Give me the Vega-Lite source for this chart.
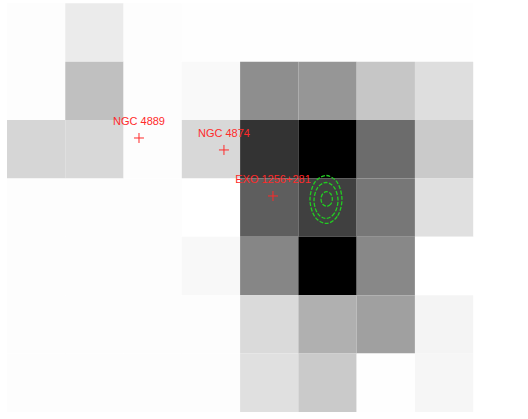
{
  "$schema": "https://vega.github.io/schema/vega-lite/v6.json",
  "width": 528,
  "height": 419,
  "padding": 0,
  "autosize": {"type": "fit", "contains": "padding"},
  "background": "#ffffff",
  "config": {"view": {"stroke": null}},
  "datasets": {
    "cells": [
      {"c":0,"c1":1,"r":0,"r1":1,"v":2},{"c":1,"c1":2,"r":0,"r1":1,"v":20},{"c":2,"c1":3,"r":0,"r1":1,"v":2},{"c":3,"c1":4,"r":0,"r1":1,"v":1},{"c":4,"c1":5,"r":0,"r1":1,"v":1},{"c":5,"c1":6,"r":0,"r1":1,"v":1},{"c":6,"c1":7,"r":0,"r1":1,"v":1},{"c":7,"c1":8,"r":0,"r1":1,"v":1},
      {"c":0,"c1":1,"r":1,"r1":2,"v":2},{"c":1,"c1":2,"r":1,"r1":2,"v":63},{"c":2,"c1":3,"r":1,"r1":2,"v":2},{"c":3,"c1":4,"r":1,"r1":2,"v":6},{"c":4,"c1":5,"r":1,"r1":2,"v":113},{"c":5,"c1":6,"r":1,"r1":2,"v":105},{"c":6,"c1":7,"r":1,"r1":2,"v":57},{"c":7,"c1":8,"r":1,"r1":2,"v":33},
      {"c":0,"c1":1,"r":2,"r1":3,"v":41},{"c":1,"c1":2,"r":2,"r1":3,"v":39},{"c":2,"c1":3,"r":2,"r1":3,"v":2},{"c":3,"c1":4,"r":2,"r1":3,"v":39},{"c":4,"c1":5,"r":2,"r1":3,"v":204},{"c":5,"c1":6,"r":2,"r1":3,"v":255},{"c":6,"c1":7,"r":2,"r1":3,"v":147},{"c":7,"c1":8,"r":2,"r1":3,"v":53},
      {"c":0,"c1":1,"r":3,"r1":4,"v":2},{"c":1,"c1":2,"r":3,"r1":4,"v":2},{"c":2,"c1":3,"r":3,"r1":4,"v":2},{"c":3,"c1":4,"r":3,"r1":4,"v":0},{"c":4,"c1":5,"r":3,"r1":4,"v":161},{"c":5,"c1":6,"r":3,"r1":4,"v":191},{"c":6,"c1":7,"r":3,"r1":4,"v":136},{"c":7,"c1":8,"r":3,"r1":4,"v":31},
      {"c":0,"c1":1,"r":4,"r1":5,"v":2},{"c":1,"c1":2,"r":4,"r1":5,"v":2},{"c":2,"c1":3,"r":4,"r1":5,"v":2},{"c":3,"c1":4,"r":4,"r1":5,"v":7},{"c":4,"c1":5,"r":4,"r1":5,"v":121},{"c":5,"c1":6,"r":4,"r1":5,"v":255},{"c":6,"c1":7,"r":4,"r1":5,"v":119},{"c":7,"c1":8,"r":4,"r1":5,"v":0},
      {"c":0,"c1":1,"r":5,"r1":6,"v":2},{"c":1,"c1":2,"r":5,"r1":6,"v":2},{"c":2,"c1":3,"r":5,"r1":6,"v":2},{"c":3,"c1":4,"r":5,"r1":6,"v":2},{"c":4,"c1":5,"r":5,"r1":6,"v":37},{"c":5,"c1":6,"r":5,"r1":6,"v":79},{"c":6,"c1":7,"r":5,"r1":6,"v":95},{"c":7,"c1":8,"r":5,"r1":6,"v":11},
      {"c":0,"c1":1,"r":6,"r1":7,"v":2},{"c":1,"c1":2,"r":6,"r1":7,"v":2},{"c":2,"c1":3,"r":6,"r1":7,"v":2},{"c":3,"c1":4,"r":6,"r1":7,"v":2},{"c":4,"c1":5,"r":6,"r1":7,"v":31},{"c":5,"c1":6,"r":6,"r1":7,"v":53},{"c":6,"c1":7,"r":6,"r1":7,"v":1},{"c":7,"c1":8,"r":6,"r1":7,"v":9}
    ],
    "sources": [
      {"name":"NGC 4889","x":2.265,"y":2.307},
      {"name":"NGC 4874","x":3.723,"y":2.512},
      {"name":"EXO 1256+281","x":4.564,"y":3.300}
    ],
    "contours": [
      {"level":1,"i":0,"x":5.748,"y":3.360},{"level":1,"i":1,"x":5.667,"y":3.651},{"level":1,"i":2,"x":5.474,"y":3.771},{"level":1,"i":3,"x":5.280,"y":3.651},{"level":1,"i":4,"x":5.199,"y":3.360},{"level":1,"i":5,"x":5.280,"y":3.069},{"level":1,"i":6,"x":5.474,"y":2.949},{"level":1,"i":7,"x":5.667,"y":3.069},
      {"level":2,"i":0,"x":5.680,"y":3.377},{"level":2,"i":1,"x":5.619,"y":3.595},{"level":2,"i":2,"x":5.474,"y":3.686},{"level":2,"i":3,"x":5.328,"y":3.595},{"level":2,"i":4,"x":5.268,"y":3.377},{"level":2,"i":5,"x":5.328,"y":3.160},{"level":2,"i":6,"x":5.474,"y":3.069},{"level":2,"i":7,"x":5.619,"y":3.160},
      {"level":3,"i":0,"x":5.583,"y":3.352},{"level":3,"i":1,"x":5.554,"y":3.441},{"level":3,"i":2,"x":5.486,"y":3.477},{"level":3,"i":3,"x":5.417,"y":3.441},{"level":3,"i":4,"x":5.388,"y":3.352},{"level":3,"i":5,"x":5.417,"y":3.262},{"level":3,"i":6,"x":5.486,"y":3.227},{"level":3,"i":7,"x":5.554,"y":3.262}
    ]
  },
  "layer": [
    {
      "data": {"name": "cells"},
      "mark": {"type": "rect", "strokeWidth": 0},
      "encoding": {
        "x": {"field": "c", "type": "quantitative", "scale": {"domain": [-0.12, 8.94], "nice": false, "zero": false}, "axis": null},
        "x2": {"field": "c1"},
        "y": {"field": "r", "type": "quantitative", "scale": {"domain": [-0.0565, 7.12], "nice": false, "zero": false, "reverse": true}, "axis": null},
        "y2": {"field": "r1"},
        "color": {"field": "v", "type": "quantitative", "scale": {"domain": [0, 255], "range": ["#ffffff", "#000000"], "interpolate": "rgb"}, "legend": null}
      }
    },
    {
      "data": {"name": "contours"},
      "mark": {"type": "line", "interpolate": "cardinal-closed", "color": "#22cc22", "strokeWidth": 1.3, "strokeDash": [4, 1.5]},
      "encoding": {
        "x": {"field": "x", "type": "quantitative"},
        "y": {"field": "y", "type": "quantitative"},
        "detail": {"field": "level"},
        "order": {"field": "i"}
      }
    },
    {
      "data": {"name": "sources"},
      "mark": {"type": "point", "shape": "M-1,0H1M0,-1V1", "size": 100, "filled": false, "stroke": "#ff2a2a", "strokeWidth": 1, "opacity": 1},
      "encoding": {
        "x": {"field": "x", "type": "quantitative"},
        "y": {"field": "y", "type": "quantitative"}
      }
    },
    {
      "data": {"name": "sources"},
      "mark": {"type": "text", "dy": -16, "baseline": "middle", "align": "center", "font": "Liberation Sans", "fontSize": 11, "color": "#ff2a2a"},
      "encoding": {
        "x": {"field": "x", "type": "quantitative"},
        "y": {"field": "y", "type": "quantitative"},
        "text": {"field": "name"}
      }
    }
  ]
}
